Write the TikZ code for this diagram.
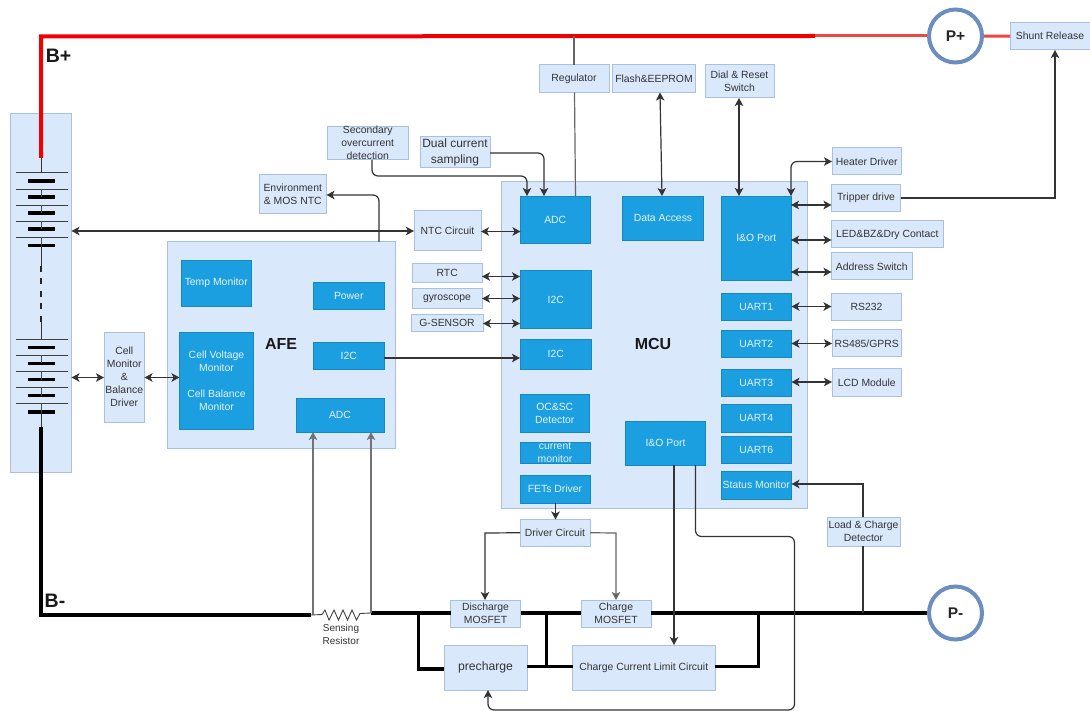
\documentclass[tikz,border=0pt]{standalone}
\usepackage{fontspec}
\setmainfont{Liberation Sans}
\usetikzlibrary{arrows.meta}
\definecolor{panelfill}{HTML}{DAE8FC}
\definecolor{panelline}{HTML}{A9C0DE}
\definecolor{blockfill}{HTML}{1B9FE0}
\definecolor{blocktext}{HTML}{E6F3FB}
\definecolor{txt}{HTML}{333333}
\definecolor{wire}{HTML}{333333}
\definecolor{ringc}{HTML}{6C8EBF}
\definecolor{redthick}{HTML}{F00000}
\definecolor{redthin}{HTML}{F04545}
\tikzset{
  base/.style={inner sep=0pt,outer sep=0pt,align=center,text=txt,font=\fontsize{10.4}{13}\selectfont},
  panel/.style={base,draw=panelline,fill=panelfill,line width=1pt},
  block/.style={base,fill=blockfill,draw=blockfill!85!black,line width=.4pt,text=blocktext},
  bus/.style={line width=3.6pt,black,line cap=butt,line join=miter},
  wirel/.style={line width=1.2pt,wire,rounded corners=6pt},
  tip/.style={-{Stealth[length=8pt,width=8.5pt,inset=2pt]}},
  tips/.style={{Stealth[length=8pt,width=8.5pt,inset=2pt]}-{Stealth[length=8pt,width=8.5pt,inset=2pt]}},
  title/.style={inner sep=0pt,font=\fontsize{16}{20}\selectfont\bfseries,text=black!90},
  btitle/.style={inner sep=0pt,font=\fontsize{19.5}{22}\selectfont\bfseries,text=black!90},
  ring/.style={circle,draw=ringc,line width=4pt,fill=white,minimum size=53pt,inner sep=0pt,font=\fontsize{15.5}{18}\selectfont\bfseries,text=black!85}
}
\newcommand{\bx}[7]{\node[#6,minimum width={(#4-#2)*1pt},minimum height={(#5-#3)*1pt}] (#1) at ({(#2+#4)/2},{(#3+#5)/2}) {#7};}
\begin{document}
\begin{tikzpicture}[x=1pt,y=-1pt]
\useasboundingbox (0,0) rectangle (1090,711);
% panels
\bx{pack}{10}{113.5}{71.5}{472}{panel}{}
\bx{afe}{167.5}{242}{395}{448}{panel}{}
\bx{mcu}{501}{182}{807.5}{508}{panel}{}
% AFE blocks
\bx{temp}{181}{260.5}{251.5}{306}{block}{Temp Monitor}
\bx{power}{313.5}{282}{384}{309.5}{block}{Power}
\bx{cellv}{179.5}{332}{253.5}{429}{block}{Cell Voltage\\Monitor\\[13pt]Cell Balance\\Monitor}
\bx{afei}{313.5}{342}{384}{369.5}{block}{I2C}
\bx{afeadc}{296}{398.5}{384}{432}{block}{ADC}
\node[title] (afet) at (281,344) {AFE};
% MCU blocks
\bx{adc}{520.5}{196}{590}{243}{block}{ADC}
\bx{data}{622.5}{196}{703.5}{240}{block}{Data Access}
\bx{io}{721.5}{196}{791}{280}{block}{I\&O Port}
\bx{ia}{520}{270.5}{591.5}{328.5}{block}{I2C}
\bx{ib}{520}{339}{591.5}{369}{block}{I2C}
\bx{oc}{520}{394.5}{589.5}{432}{block}{OC\&SC\\Detector}
\bx{cur}{520}{442}{590}{463}{block}{current\\monitor}
\bx{fets}{520}{475.5}{590}{503}{block}{FETs Driver}
\bx{iob}{625.5}{421.5}{705.5}{465}{block}{I\&O Port}
\bx{ua}{721}{293}{791.5}{320.5}{block}{UART1}
\bx{ub}{721}{330.5}{791.5}{357.5}{block}{UART2}
\bx{uc}{721}{369}{791.5}{396}{block}{UART3}
\bx{ud}{721}{404.5}{791.5}{432}{block}{UART4}
\bx{ue}{721}{436}{791.5}{463.5}{block}{UART6}
\bx{stat}{721}{471.5}{791.5}{499}{block}{Status Monitor}
\node[title] (mcut) at (653,344) {MCU};
% peripheral boxes
\bx{shunt}{1010}{22.5}{1090}{50}{panel}{Shunt Release}
\bx{reg}{539}{65}{609}{92.5}{panel}{Regulator}
\bx{flash}{612.5}{65}{695.5}{92.5}{panel}{Flash\&EEPROM}
\bx{dial}{705}{65}{774}{98}{panel}{Dial \& Reset\\Switch}
\bx{sec}{327.5}{127}{408}{159}{panel}{Secondary\\overcurrent\\detection}
\bx{dual}{420}{137}{490}{168}{panel,font=\fontsize{12}{15.5}\selectfont}{Dual current\\sampling}
\bx{env}{259}{175}{326.5}{214}{panel}{Environment\\\& MOS NTC}
\bx{ntc}{414}{211}{481}{251}{panel}{NTC Circuit}
\bx{rtc}{412.5}{263.5}{482}{282.5}{panel}{RTC}
\bx{gyro}{412}{288.5}{482}{308.5}{panel}{gyroscope}
\bx{gs}{411}{315}{483}{331.5}{panel}{G-SENSOR}
\bx{cm}{104}{332.5}{144.5}{422}{panel}{Cell\\Monitor\\\&\\Balance\\Driver}
\bx{heat}{832}{148}{901.5}{175}{panel}{Heater Driver}
\bx{trip}{831.5}{184.5}{900.5}{211.5}{panel}{Tripper drive}
\bx{led}{831.5}{221}{943}{248}{panel}{LED\&BZ\&Dry Contact}
\bx{addr}{831.5}{253}{912}{280}{panel}{Address Switch}
\bx{rsa}{831.5}{293.5}{901.5}{320.5}{panel}{RS232}
\bx{rsb}{832}{330}{901.5}{357}{panel}{RS485/GPRS}
\bx{lcd}{832}{369}{901.5}{396}{panel}{LCD Module}
\bx{drv}{520}{519.5}{590}{546}{panel}{Driver Circuit}
\bx{load}{827}{517}{900}{546}{panel}{Load \& Charge\\Detector}
\bx{dis}{450.5}{600}{520.5}{627}{panel}{Discharge\\MOSFET}
\bx{chg}{581}{600}{651}{627}{panel}{Charge\\MOSFET}
\bx{pre}{444}{645}{527}{690}{panel,font=\fontsize{12.2}{15}\selectfont}{precharge}
\bx{lim}{572.5}{645}{715}{690}{panel}{Charge Current Limit Circuit}
\node[ring] (pp) at (955.5,36) {P+};
\node[ring] (pm) at (955.5,613) {P-};
\node[btitle] (bp) at (58.5,56) {B+};
\node[btitle] (bm) at (55,601) {B-};
\node[base,font=\fontsize{10}{12.5}\selectfont] (sr) at (341,634.5) {Sensing\\Resistor};
% battery symbol
\foreach \yy in {172.7,189,205,221,237,339.3,355.5,371.5,387.5,403.7}
  \draw[line width=.9pt,black!75] (16,\yy) -- (67.5,\yy);
\foreach \yy in {181,197,213,229,245.5,347.3,363.3,379.7,395.7,412}
  \draw[line width=3.4pt,black] (28,\yy) -- (55,\yy);
\foreach \ya/\yb in {189/197,205/213,221/229,237/245.5,355.5/363.3,371.5/379.7,387.5/395.7,403.7/412}
  \draw[line width=.6pt,black!70] (41.5,\ya) -- (41.5,\yb);
\draw[line width=1pt,black!80] (41.5,158) -- (41.5,172.7);
\draw[line width=1pt,black!80] (41.5,245.5) -- (41.5,266);
\draw[line width=2pt,black!85,dash pattern=on 6pt off 6.5pt] (41.3,266) -- (41.3,325);
\draw[line width=1pt,black!80] (41.5,322) -- (41.5,339.3);
\draw[line width=1pt,black!80] (41.5,412) -- (41.5,427);
% power buses
\coordinate (tapreg) at (574,36);
\coordinate (redend) at (815,36);
\draw[line width=4pt,redthick,line join=miter] (41,158) -- (41,36.5) -- (redend);
\draw[line width=3pt,redthin] (redend) -- (pp);
\draw[line width=3pt,redthin] (pp) -- (shunt);
\coordinate (bmt) at (41,427);
\coordinate (rl) at (322,614.5);
\coordinate (rr) at (360,613.5);
\coordinate (sl) at (313,614.5);
\coordinate (sh) at (371,613);
\coordinate (ja) at (418.5,613);
\coordinate (jb) at (546.5,613);
\coordinate (jc) at (758.5,613);
\coordinate (jload) at (863,613);
\draw[bus] (bmt) -- (41,615) -- (311,615);
\draw[line width=.9pt,black!75] (311,615) -- (rl) -- (325,610) -- (329,620) -- (334,610) -- (338.5,620) -- (343,610) -- (347.5,620) -- (352,610) -- (356.5,620) -- (rr) -- (sh);
\draw[bus] (sh) -- (dis.west |- sh);
\draw[bus] (dis.east |- sh) -- (chg.west |- sh);
\draw[bus] (chg.east |- sh) -- (pm);
\draw[bus,line join=miter] (ja) -- (418.5,669) -- (pre.west |- 0,669);
\draw[bus] (pre.east |- 0,666.5) -- (lim.west |- 0,666.5);
\draw[bus] (jb) -- (546.5,666.5);
\draw[bus] (jc) -- (758.5,666.5) -- (lim.east |- 0,666.5);
% control wires
\draw[wirel,tips] (71.5,231) -- (ntc.west |- 0,231);
\draw[wirel,tips] (ntc.east |- 0,231.5) -- (adc.west |- 0,231.5);
\draw[wirel,tip] (afe.north -| 379,0) -- (379,195) -- (env.east |- 0,195);
\draw[wirel,tip] (sec.south -| 372,0) -- (372,176) -- (527,176) -- (adc.north -| 527,0);
\draw[wirel,tip] (dual.east |- 0,153) -- (544,153) -- (adc.north -| 544,0);
\draw[wirel,black!60] (tapreg) -- (reg.north -| tapreg);
\draw[wirel,black!60] (reg.south -| 574.5,0) -- (adc.north -| 575.5,0);
\draw[wirel,tips] (flash.south -| 660,0) -- (data.north -| 662,0);
\draw[wirel,tips] (dial.south -| 739,0) -- (io.north -| 739,0);
\draw[wirel,tips] (io.north -| 791,0) -- (791,161.5) -- (heat.west |- 0,161.5);
\draw[wirel,tips] (io.east |- 0,205) -- (trip.west |- 0,205);
\draw[wirel,tips] (io.east |- 0,240) -- (led.west |- 0,240);
\draw[wirel,tips] (io.east |- 0,272) -- (addr.west |- 0,272);
\draw[wirel,tips] (ua.east |- 0,306.5) -- (rsa.west |- 0,306.5);
\draw[wirel,tips] (ub.east |- 0,343.5) -- (rsb.west |- 0,343.5);
\draw[wirel,tips] (uc.east |- 0,382) -- (lcd.west |- 0,382);
\draw[wirel,tip,rounded corners=0pt] (trip.east |- 0,198) -- (1055,198) -- (shunt.south -| 1055,0);
\draw[wirel,tips] (rtc.east |- 0,276.5) -- (ia.west |- 0,276.5);
\draw[wirel,tips] (gyro.east |- 0,298.5) -- (ia.west |- 0,298.5);
\draw[wirel,tips] (gs.east |- 0,323.5) -- (ia.west |- 0,323.5);
\draw[wirel,tip] (afei.east |- 0,358) -- (ib.west |- 0,358);
\draw[wirel,tips] (pack.east |- 0,377.5) -- (cm.west |- 0,377.5);
\draw[wirel,tips] (cm.east |- 0,377.5) -- (cellv.west |- 0,377.5);
\draw[wirel,tip,black!55] (sl) -- (afeadc.south -| sl);
\draw[wirel,tip,black!55] (sh) -- (afeadc.south -| sh);
\draw[wirel,tip] (fets.south -| 555.5,0) -- (drv.north -| 555.5,0);
\draw[wirel,tip,rounded corners=0pt] (drv.west) -- (485,533) -- (dis.north -| 485,0);
\draw[wirel,tip,rounded corners=0pt,black!60] (drv.east) -- (616,533) -- (chg.north -| 616,0);
\draw[wirel,tip] (iob.south -| 674,0) -- (lim.north -| 674,0);
\draw[wirel,tip] (iob.south -| 695.5,0) -- (695.5,536.5) -- (794.5,536.5) -- (794.5,710) -- (488,710) -- (pre.south -| 488,0);
\draw[wirel,rounded corners=0pt] (jload) -- (load.south -| jload);
\draw[wirel,tip,rounded corners=0pt] (load.north -| jload) -- (863,484) -- (stat.east |- 0,484);
\end{tikzpicture}
\end{document}
